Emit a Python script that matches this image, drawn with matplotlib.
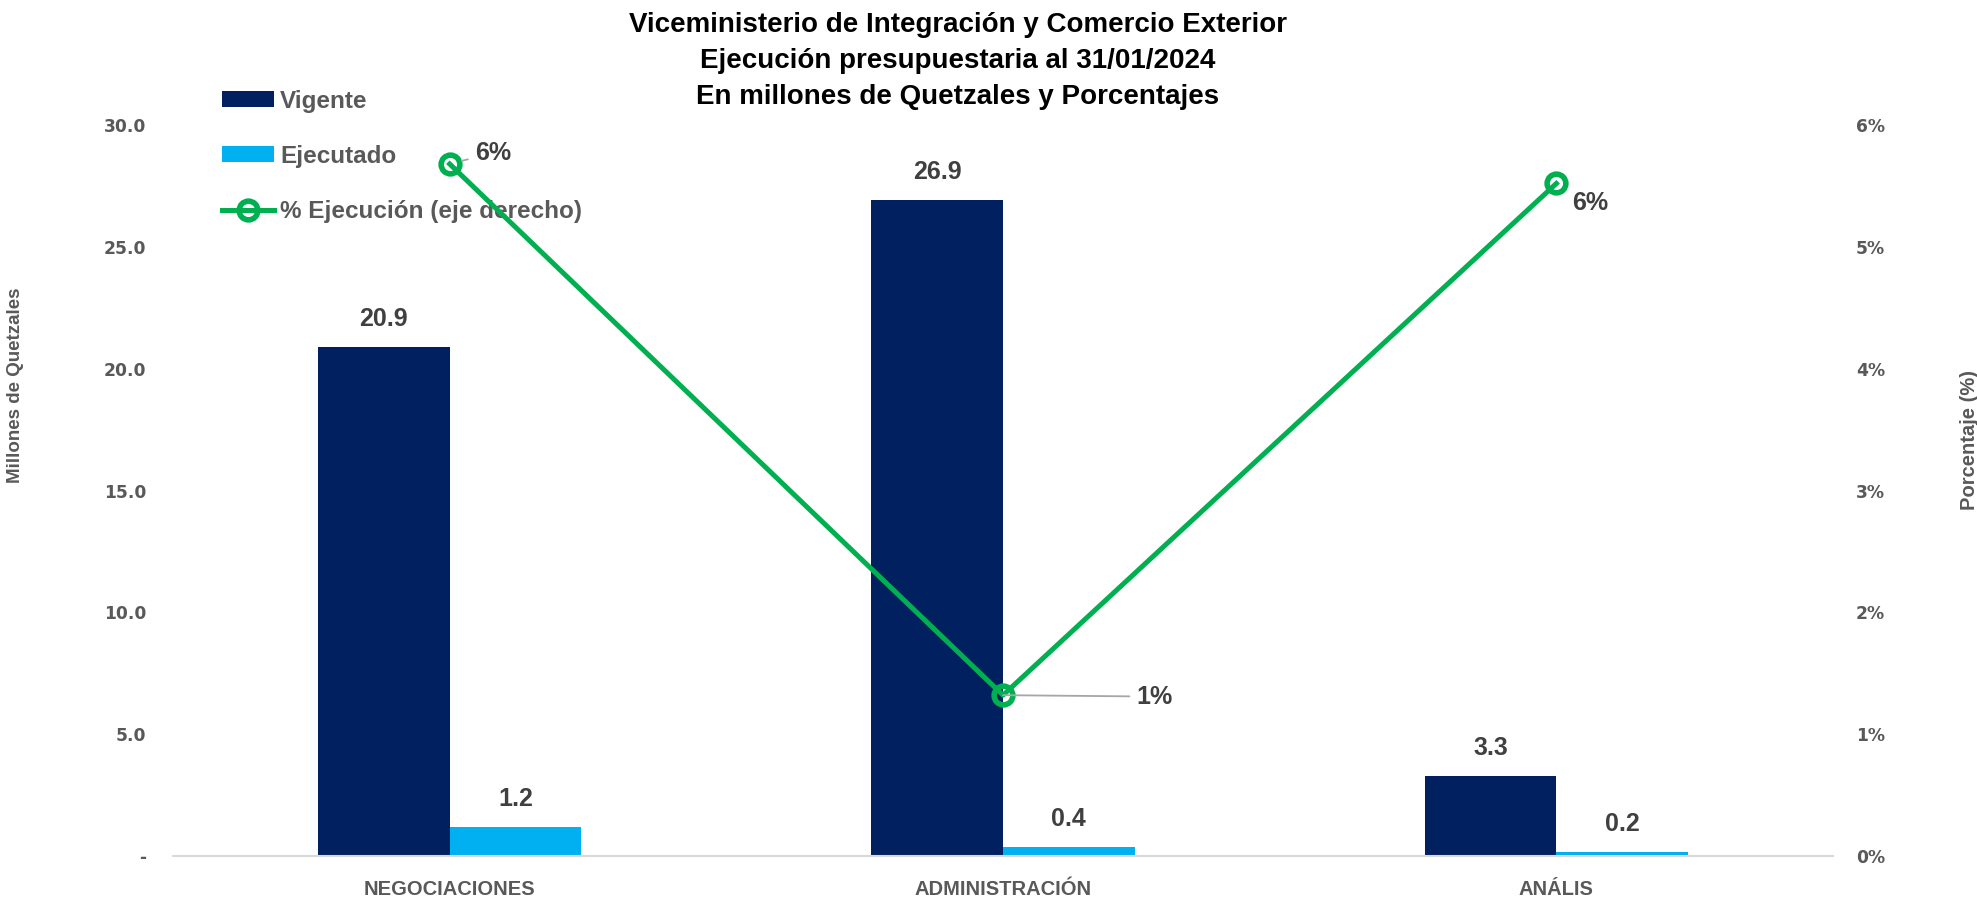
import matplotlib
matplotlib.use("Agg")
import matplotlib.pyplot as plt
from matplotlib.ticker import FuncFormatter

# data
categories = ["NEGOCIACIONES", "ADMINISTRACIÓN", "ANÁLIS"]
vigente = [20.88, 26.93, 3.28]
ejecutado = [1.19, 0.36, 0.18]
pct_ejecucion = [5.68, 1.32, 5.52]
pct_labels = ["6%", "1%", "6%"]

plt.rcParams["font.family"] = ["Liberation Sans", "DejaVu Sans"]

navy = "#002060"
cyan = "#00B0F0"
green = "#00B050"
gray = "#595959"
dark = "#404040"

W, H = 1977, 897
fig = plt.figure(figsize=(W / 100, H / 100), dpi=100)
# axes box in pixels: left 173, right 1833, bottom 856, top 125
ax = fig.add_axes([173 / W, 1 - 856 / H, 1660 / W, 731 / H])
ax2 = ax.twinx()

x = list(range(len(categories)))
w = 0.238
ax.bar([i - w / 2 for i in x], vigente, width=w, color=navy, label="Vigente", zorder=2)
ax.bar([i + w / 2 for i in x], ejecutado, width=w, color=cyan, label="Ejecutado", zorder=2)

# bar value labels
for i in x:
    ax.annotate("%.1f" % vigente[i], (i - w / 2, vigente[i]), xytext=(0, 20),
                textcoords="offset points", ha="center", va="center",
                fontsize=18, fontweight="bold", color=dark)
    ax.annotate("%.1f" % ejecutado[i], (i + w / 2, ejecutado[i]), xytext=(0, 20),
                textcoords="offset points", ha="center", va="center",
                fontsize=18, fontweight="bold", color=dark)

ax.set_xlim(-0.5, 2.5)
ax.set_ylim(0, 30)
ax.set_yticks([0, 5, 10, 15, 20, 25, 30])
ax.yaxis.set_major_formatter(FuncFormatter(lambda v, p: "-" if v == 0 else "%.1f" % v))
ax.set_xticks(x)
ax.set_xticklabels(categories, fontsize=14.5, fontweight="bold", color=gray)
for lbl in ax.get_yticklabels():
    lbl.set_family("DejaVu Sans")
    lbl.set_fontweight("bold")
    lbl.set_fontsize(12.3)
    lbl.set_color(gray)
ax.tick_params(axis="y", length=0, pad=19)
ax.tick_params(axis="x", length=0, pad=17.5)
for s in ["top", "right", "left"]:
    ax.spines[s].set_visible(False)
ax.spines["bottom"].set_color("#d9d9d9")
ax.spines["bottom"].set_linewidth(1.5)
ax.set_ylabel("Millones de Quetzales", fontsize=13.5, fontweight="bold", color=gray)
ax.yaxis.set_label_coords((24 - 173) / 1660, (856 - 385) / 731)

# percentage line on the right axis
ax2.plot(x, pct_ejecucion, color=green, linewidth=3.6, marker="o", markersize=13.5,
         markerfacecolor="none", markeredgecolor=green, markeredgewidth=4,
         label="% Ejecución (eje derecho)", zorder=3)
ax2.set_ylim(0, 6)
ax2.set_yticks([0, 1, 2, 3, 4, 5, 6])
ax2.yaxis.set_major_formatter(FuncFormatter(lambda v, p: "%d%%" % v))
for lbl in ax2.get_yticklabels():
    lbl.set_family("DejaVu Sans")
    lbl.set_fontweight("bold")
    lbl.set_fontsize(12.3)
    lbl.set_color(gray)
ax2.tick_params(axis="y", length=0, pad=16.5)
for s in ["top", "right", "left", "bottom"]:
    ax2.spines[s].set_visible(False)
ax2.set_ylabel("Porcentaje (%)", fontsize=14.5, fontweight="bold", color=gray, rotation=90)
ax2.yaxis.set_label_coords((1960 - 173) / 1660, (856 - 440) / 731)

# percent labels with leader lines
offsets = [(18, 8), (96, -1), (11.5, -13.7)]
shrinks = [9, 0, 0]
for i in x:
    dx, dy = offsets[i]
    props = None
    if i < 2:
        props = dict(arrowstyle="-", color="#a6a6a6", lw=1.3, shrinkA=3, shrinkB=shrinks[i])
    ax2.annotate(pct_labels[i], (i, pct_ejecucion[i]), xytext=(dx, dy),
                 textcoords="offset points", ha="left", va="center",
                 fontsize=18, fontweight="bold", color=dark, arrowprops=props)

h1, l1 = ax.get_legend_handles_labels()
h2, l2 = ax2.get_legend_handles_labels()
leg = ax.legend(h1 + h2, l1 + l2, loc="upper left",
                bbox_to_anchor=(212 / W, 1 - 80 / H), bbox_transform=fig.transFigure,
                borderaxespad=0, frameon=False, fontsize=17.5, labelspacing=1.32,
                handlelength=2.15, handleheight=0.65, handletextpad=0.25)
for t in leg.get_texts():
    t.set_color(gray)
    t.set_fontweight("bold")

fig.text(958 / W, 1 - 61 / H,
         "Viceministerio de Integración y Comercio Exterior\n"
         "Ejecución presupuestaria al 31/01/2024\n"
         "En millones de Quetzales y Porcentajes",
         ha="center", va="center", fontsize=20, fontweight="bold", color="black",
         linespacing=1.48)

fig.savefig("out.png", dpi=100)
